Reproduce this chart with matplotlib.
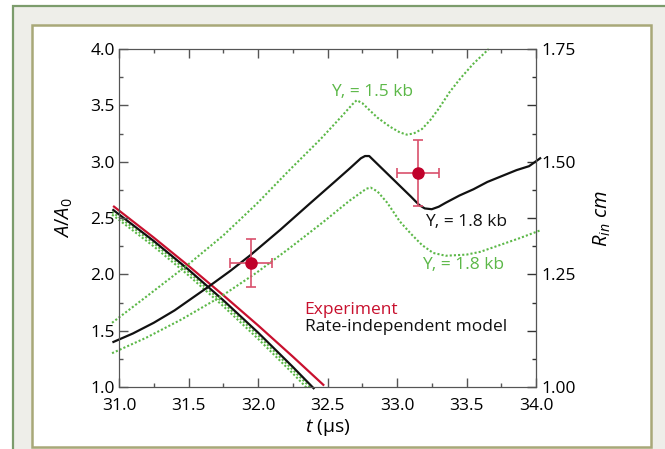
import matplotlib
matplotlib.use('Agg')
import matplotlib.pyplot as plt
from matplotlib.patches import Rectangle
from matplotlib.ticker import MultipleLocator, FuncFormatter

plt.rcParams['font.family'] = ['Open Sans', 'DejaVu Sans']
plt.rcParams['mathtext.fontset'] = 'custom'
plt.rcParams['mathtext.rm'] = 'Open Sans'
plt.rcParams['mathtext.it'] = 'Open Sans:italic'

# A/A0 curves (left axis)
t_model = [30.96, 31.1, 31.25, 31.4, 31.51, 31.655, 31.8, 31.94, 32.16, 32.37, 32.55,
           32.66, 32.74, 32.77, 32.80, 32.85, 32.9, 33.0, 33.1, 33.16, 33.2, 33.25,
           33.3, 33.35, 33.45, 33.55, 33.65, 33.75, 33.86, 33.95, 34.03]
a_model = [1.40, 1.475, 1.57, 1.68, 1.775, 1.9, 2.03, 2.165, 2.395, 2.625, 2.82,
           2.94, 3.03, 3.05, 3.05, 2.99, 2.93, 2.81, 2.69, 2.615, 2.585, 2.578,
           2.60, 2.635, 2.70, 2.755, 2.82, 2.87, 2.925, 2.96, 3.03]

t_y15 = [30.95, 31.2, 31.51, 31.75, 31.99, 32.23, 32.45, 32.6, 32.68, 32.71, 32.75,
         32.8, 32.86, 32.95, 33.02, 33.07, 33.12, 33.18, 33.24, 33.30, 33.38, 33.46,
         33.55, 33.66]
a_y15 = [1.57, 1.805, 2.10, 2.345, 2.625, 2.93, 3.20, 3.40, 3.51, 3.545, 3.52,
         3.46, 3.39, 3.31, 3.26, 3.24, 3.25, 3.29, 3.37, 3.47, 3.62, 3.745,
         3.87, 4.0]

t_y18 = [30.95, 31.2, 31.45, 31.73, 31.99, 32.23, 32.47, 32.66, 32.78, 32.81, 32.86,
         32.93, 33.02, 33.1, 33.18, 33.26, 33.35, 33.5, 33.6, 33.74, 33.88, 34.03]
a_y18 = [1.30, 1.44, 1.60, 1.80, 2.015, 2.235, 2.465, 2.655, 2.76, 2.77, 2.735,
         2.635, 2.47, 2.36, 2.26, 2.19, 2.165, 2.175, 2.20, 2.26, 2.32, 2.39]

# R_in curves (right axis, cm)
t_rin_exp = [30.964, 31.25, 31.5, 31.75, 32.0, 32.25, 32.47]
rin_exp = [1.4002, 1.3315, 1.2688, 1.2037, 1.1368, 1.0675, 1.0048]

t_rin_model = [30.959, 31.25, 31.5, 31.75, 32.0, 32.25, 32.40]
rin_model = [1.3927, 1.3240, 1.2604, 1.1926, 1.1209, 1.0447, 0.9973]

t_rin_y15 = [30.95, 31.25, 31.5, 31.75, 32.0, 32.25, 32.38]
rin_y15 = [1.3885, 1.3189, 1.2550, 1.1866, 1.1146, 1.0381, 0.9979]

t_rin_y18 = [30.95, 31.25, 31.5, 31.75, 32.0, 32.25, 32.35]
rin_y18 = [1.3825, 1.3120, 1.2478, 1.1794, 1.1071, 1.0303, 0.9982]

# experimental points (A/A0)
t_pts = [31.95, 33.15]
a_pts = [2.10, 2.90]
t_err = [0.15, 0.15]
a_err = [0.21, 0.29]

BLACK = '#111111'
RED = '#c8102e'
GREEN = '#5cb848'

fig = plt.figure(figsize=(6.65, 4.49), dpi=100)
fig.patch.set_facecolor('white')
fig.patches.append(Rectangle((13 / 665, -0.02), 1.0, 1 - 6 / 449 + 0.02,
                             transform=fig.transFigure, facecolor='#eeeee9',
                             edgecolor='#7c9c6c', linewidth=1.6, zorder=-3))
fig.patches.append(Rectangle((32 / 665, 2 / 449), 619 / 665, 422 / 449,
                             transform=fig.transFigure, facecolor='white',
                             edgecolor='#a8a878', linewidth=1.8, zorder=-2))

ax = fig.add_axes([119 / 665, 1 - 387 / 449, 417 / 665, 338 / 449])
ax2 = ax.twinx()
ax.set_zorder(2)
ax2.set_zorder(1)
ax.patch.set_visible(False)
ax2.patch.set_visible(False)

dots = (0, (1, 1))
ax2.plot(t_rin_y18, rin_y18, color=GREEN, lw=1.5, ls=dots, clip_on=False)
ax2.plot(t_rin_y15, rin_y15, color=GREEN, lw=1.5, ls=dots, clip_on=False)
ax2.plot(t_rin_model, rin_model, color=BLACK, lw=1.6, clip_on=False)
ax2.plot(t_rin_exp, rin_exp, color=RED, lw=1.6, clip_on=False)

ax.plot(t_y15, a_y15, color=GREEN, lw=1.5, ls=dots, clip_on=False)
ax.plot(t_y18, a_y18, color=GREEN, lw=1.5, ls=dots, clip_on=False)
ax.plot(t_model, a_model, color=BLACK, lw=1.6, clip_on=False)
ax.errorbar(t_pts, a_pts, xerr=t_err, yerr=a_err, fmt='o', color='#c0002a', ms=8,
            ecolor='#d9506c', elinewidth=1.2, capsize=3.5, capthick=1.2, zorder=5)

ax.set_xlim(31.0, 34.0)
ax.set_ylim(1.0, 4.0)
ax2.set_ylim(1.0, 1.75)

ax.xaxis.set_major_locator(MultipleLocator(0.5))
ax.xaxis.set_minor_locator(MultipleLocator(0.25))
ax.yaxis.set_major_locator(MultipleLocator(0.5))
ax.yaxis.set_minor_locator(MultipleLocator(0.25))
ax.xaxis.set_major_formatter(FuncFormatter(lambda v, p: f'{v:.1f}'))
ax.yaxis.set_major_formatter(FuncFormatter(lambda v, p: f'{v:.1f}'))
ax2.yaxis.set_major_locator(MultipleLocator(0.125))
ax2.yaxis.set_minor_locator(MultipleLocator(0.0625))
ax2.yaxis.set_major_formatter(FuncFormatter(
    lambda v, p: f'{v:.2f}' if abs(v * 4 - round(v * 4)) < 1e-6 else ''))

ax.tick_params(which='both', direction='in', top=True, right=False,
               labelsize=12.5, colors='#555555', labelcolor='black')
ax.tick_params(which='major', length=6.5, width=1)
ax.tick_params(which='minor', length=3.2, width=1)
ax.tick_params(axis='x', pad=8)
ax.tick_params(axis='y', pad=3)
ax2.tick_params(which='both', direction='in', labelsize=12.5, colors='#333333',
                labelcolor='black', pad=4)
ax2.tick_params(which='major', length=6.5, width=1)
ax2.tick_params(which='minor', length=3, width=1)

for s in ax.spines.values():
    s.set_color('#555555')
for s in ax2.spines.values():
    s.set_color('#555555')
ax2.spines['right'].set_color('#111111')

ax.set_xlabel(r'$t$ (μs)', fontsize=14)
ax.xaxis.set_label_coords(0.5, -0.12)
ax.xaxis.label.set_va('center')
ax.set_ylabel(r'$A/A_0$', fontsize=14.5)
ax.yaxis.set_label_coords(-0.132, 0.5)
ax.yaxis.label.set_va('center')
ax2.set_ylabel(r'$R_{in}\ cm$', fontsize=14.5, rotation=90)
ax2.yaxis.set_label_coords(1.16, 0.5)
ax2.yaxis.label.set_va('center')

ax.text(32.525, 3.62, 'Y, = 1.5 kb', color=GREEN, fontsize=12.5, va='center', ha='left')
ax.text(33.20, 2.467, 'Y, = 1.8 kb', color=BLACK, fontsize=12.5, va='center', ha='left')
ax.text(33.18, 2.083, 'Y, = 1.8 kb', color=GREEN, fontsize=12.5, va='center', ha='left')
ax.text(32.335, 1.683, 'Experiment', color=RED, fontsize=12.5, va='center', ha='left')
ax.text(32.335, 1.533, 'Rate-independent model', color=BLACK, fontsize=12.5,
        va='center', ha='left')

fig.savefig('out.png', dpi=100)
